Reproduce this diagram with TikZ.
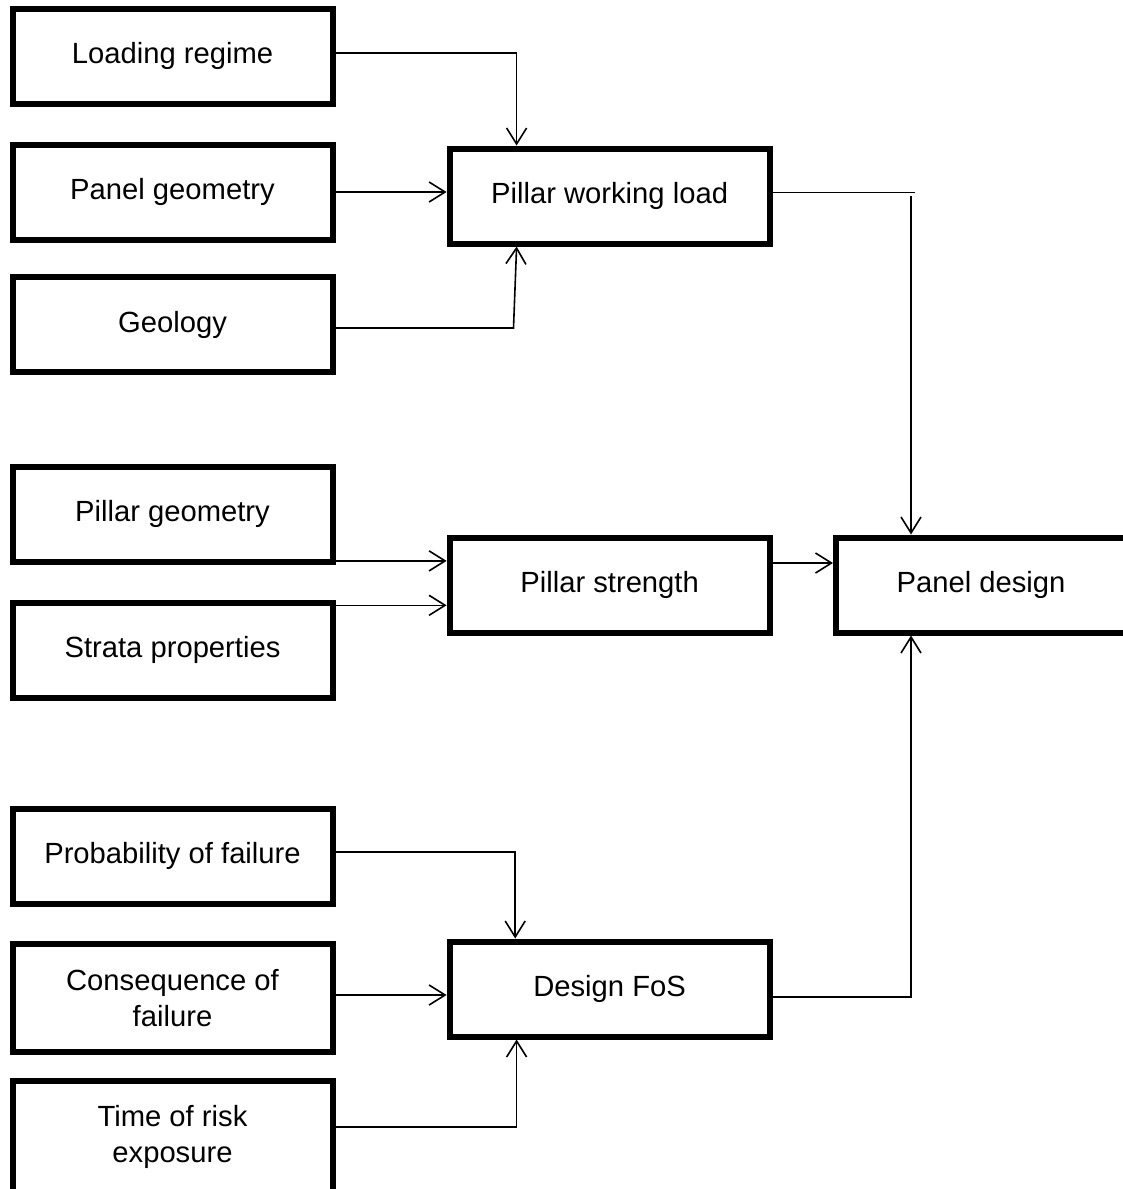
\documentclass[tikz,border=0pt]{standalone}
\usepackage{fontspec}
\setmainfont{Liberation Sans}
\usetikzlibrary{arrows.meta}

\begin{document}
\begin{tikzpicture}[x=0.5pt,y=-0.5pt,
  >={Straight Barb[length=8pt,width=10pt]},
  box/.style={draw,line width=3pt,minimum width=160pt,minimum height=47.5pt,
    inner sep=2pt,align=center,font=\fontsize{14.6}{18}\selectfont},
  link/.style={line width=0.8pt}]
\useasboundingbox (0,0) rectangle (1123,1189);
\node[box] (load) at (172.5,56) {Loading regime};
\node[box] (pgeo) at (172.5,192) {Panel geometry};
\node[box] (geol) at (172.5,324.5) {Geology};
\node[box] (pilgeo) at (172.5,514) {Pillar geometry};
\node[box] (strata) at (172.5,650) {Strata properties};
\node[box] (prob) at (172.5,856) {Probability of failure};
\node[box,minimum height=54pt] (cons) at (172.5,998) {Consequence of\\failure};
\node[box,minimum height=56.5pt] (time) at (172.5,1137) {Time of risk\\exposure};
\node[box] (pwl) at (609.6,196) {Pillar working load};
\node[box] (pstr) at (609.6,585) {Pillar strength};
\node[box] (dfos) at (609.6,989) {Design FoS};
\node[box,minimum width=145pt] (panel) at (981,585) {Panel design};
\coordinate (pdtop) at ([xshift=39pt]panel.north west);
\coordinate (pdbot) at ([xshift=39pt]panel.south west);

\draw[link,->] ([yshift=1.5pt]load.east) -| ([xshift=35pt]pwl.north west);
\draw[link,->] (pgeo.east) -- (pgeo.east -| pwl.west);
\draw[link,->] ([yshift=-1.75pt]geol.east) -- ++(89pt,0) -- ([xshift=35pt]pwl.south west);
\draw[link] ([yshift=1.7pt]pwl.east) -- ++(71pt,0);
\draw[link,->] (pdtop |- pwl.east) -- (pdtop);

\draw[link,->] ([yshift=1.8pt]pilgeo.south east) coordinate (pg) -- (pg -| pstr.west);
\draw[link,->] ([yshift=-2.9pt]strata.north east) coordinate (sp) -- (sp -| pstr.west);
\draw[link,->] ([yshift=11pt]pstr.east) coordinate (ps) -- (ps -| panel.west);

\draw[link,->] ([yshift=2pt]prob.east) -| ([xshift=34.3pt]dfos.north west);
\draw[link,->] ([yshift=1.5pt]cons.east) coordinate (cf) -- (cf -| dfos.west);
\draw[link,->] ([yshift=5pt]time.east) -| ([xshift=35pt]dfos.south west);
\draw[link,->] ([yshift=-4pt]dfos.east) -| (pdbot);
\end{tikzpicture}
\end{document}
